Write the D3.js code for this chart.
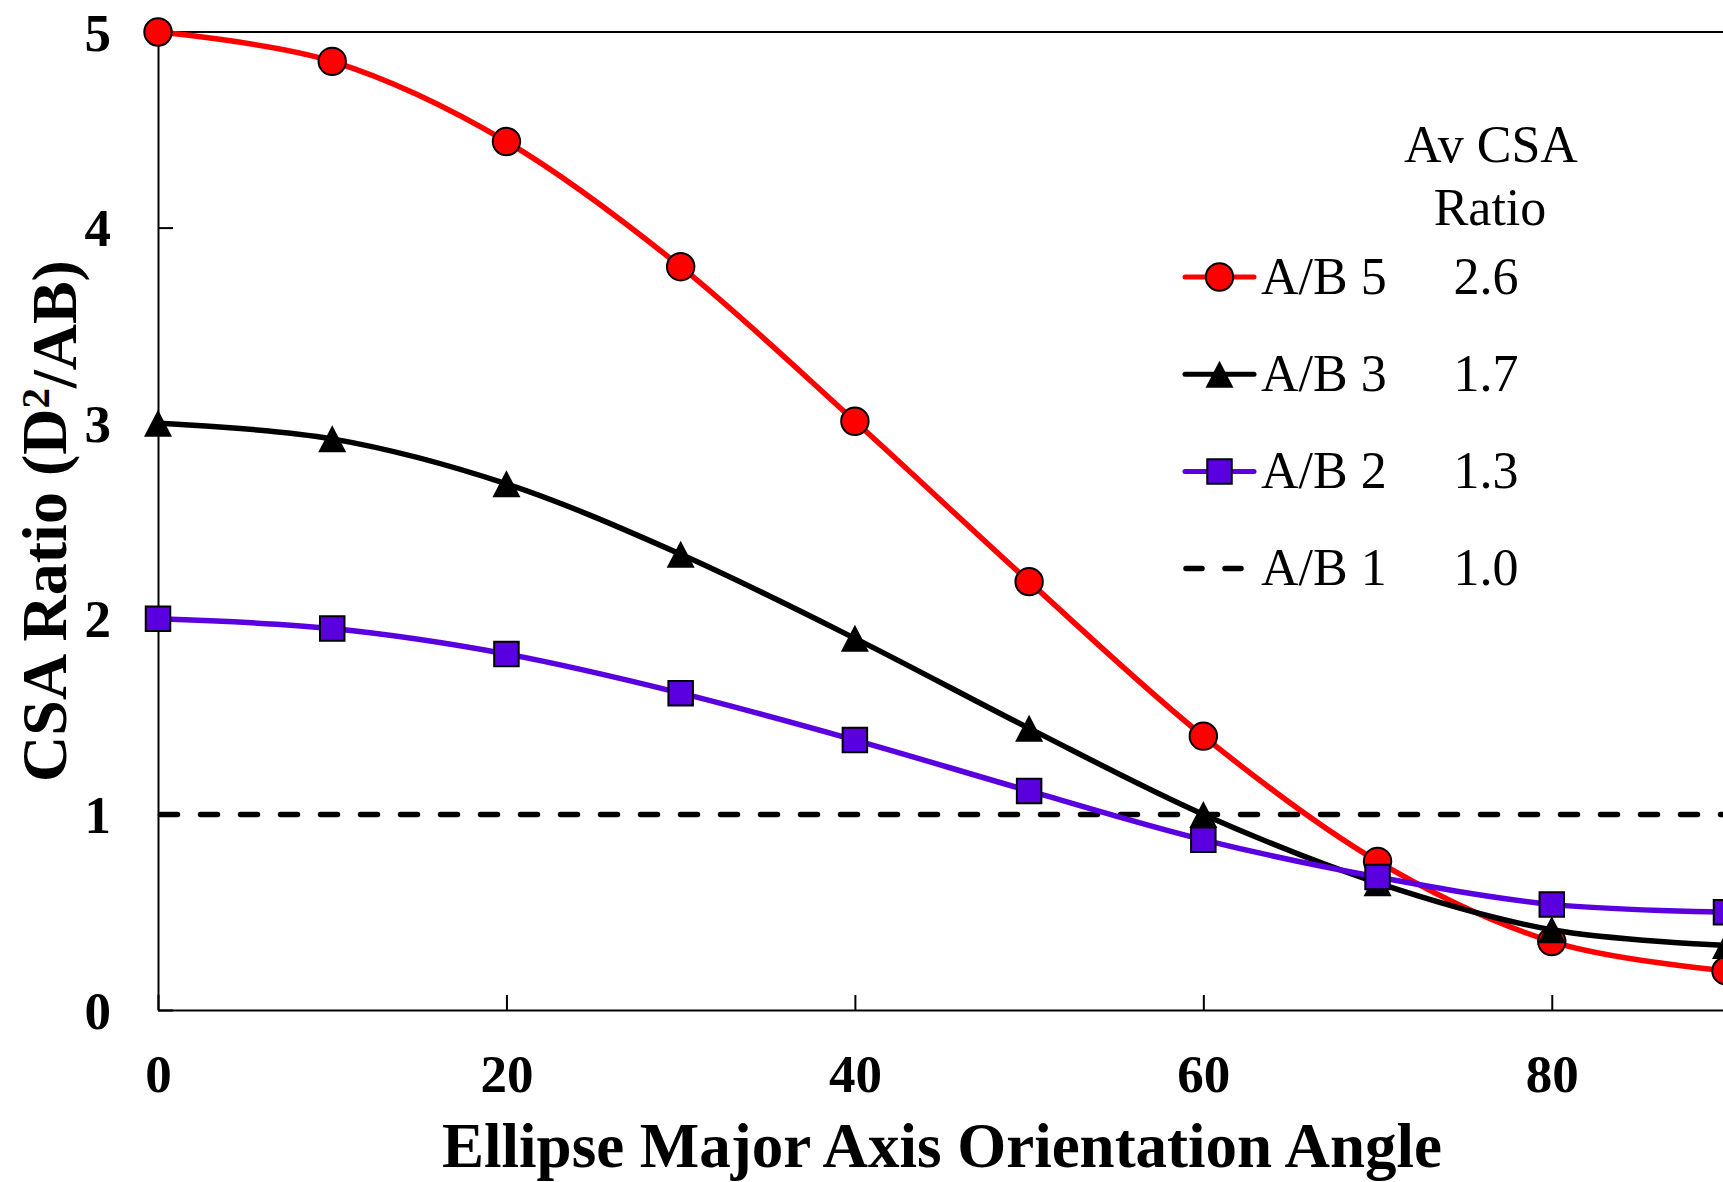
<!DOCTYPE html>
<html>
<head>
<meta charset="utf-8">
<script src="https://cdn.jsdelivr.net/npm/d3@7"></script>
<style>
  html, body { margin: 0; padding: 0; background: #fff; }
  svg { display: block; }
  text { font-family: "Liberation Serif", "Times New Roman", serif; fill: #000; }
</style>
</head>
<body>
<svg id="chart" width="1723" height="1182"></svg>
<script>
// Orientation angle of the ellipse major axis (degrees)
const angles = [0, 10, 20, 30, 40, 50, 60, 70, 80, 90];

// CSA ratio D^2/AB for each ellipse aspect ratio A/B
const ratioAB5 = [5.00, 4.85, 4.44, 3.80, 3.01, 2.19, 1.40, 0.76, 0.35, 0.20];
const ratioAB3 = [3.00, 2.92, 2.69, 2.33, 1.90, 1.44, 1.00, 0.65, 0.41, 0.33];
const ratioAB2 = [2.00, 1.95, 1.82, 1.62, 1.38, 1.12, 0.87, 0.68, 0.54, 0.50];
const ratioAB1 = [1.00, 1.00, 1.00, 1.00, 1.00, 1.00, 1.00, 1.00, 1.00, 1.00];

// Legend entries and the average CSA ratio of each series
const seriesNames = ["A/B 5", "A/B 3", "A/B 2", "A/B 1"];
const avgRatios = ["2.6", "1.7", "1.3", "1.0"];

// Axis ticks
const xTicks = [0, 20, 40, 60, 80];
const yTicks = [0, 1, 2, 3, 4, 5];

const xTitle = "Ellipse Major Axis Orientation Angle";

const svg = d3.select("#chart");
const W = 1723, H = 1182;
const plot = { left: 158, top: 32, right: 1726, bottom: 1010 };

svg.append("rect").attr("width", W).attr("height", H).attr("fill", "#fff");

const x = d3.scaleLinear().domain([0, 90]).range([plot.left, plot.right]);
const y = d3.scaleLinear().domain([0, 5]).range([plot.bottom, plot.top]);

const RED = "#ff0000", PURPLE = "#5a00e0", BLACK = "#000";

// Plot frame (top / right edges)
svg.append("path")
  .attr("d", `M${plot.left},${plot.top}H${plot.right}V${plot.bottom}`)
  .attr("fill", "none").attr("stroke", "#000").attr("stroke-width", 2);

// Axes with inward ticks
const yAxis = svg.append("g")
  .attr("transform", `translate(${plot.left},0)`)
  .call(d3.axisLeft(y).tickValues(yTicks).tickFormat(d3.format("d"))
        .tickSizeInner(-15).tickSizeOuter(0).tickPadding(47));
const xAxis = svg.append("g")
  .attr("transform", `translate(0,${plot.bottom})`)
  .call(d3.axisBottom(x).tickValues(xTicks).tickFormat(d3.format("d"))
        .tickSizeInner(-15).tickSizeOuter(0).tickPadding(0));

[yAxis, xAxis].forEach(g => {
  g.select(".domain").attr("stroke", "#000").attr("stroke-width", 2);
  g.selectAll(".tick line").attr("stroke", "#000").attr("stroke-width", 2);
  g.selectAll(".tick text")
    .style("font-family", '"Liberation Serif", "Times New Roman", serif')
    .style("font-weight", "bold").style("font-size", "53px").attr("fill", "#000");
});
yAxis.selectAll(".tick text").attr("dy", "0.34em");
xAxis.selectAll(".tick text").attr("y", 82).attr("dy", 0);

// Axis titles
svg.append("text")
  .attr("x", 942).attr("y", 1167)
  .attr("text-anchor", "middle")
  .style("font-weight", "bold").style("font-size", "63px")
  .text(xTitle);

const yt = svg.append("text")
  .attr("transform", `translate(66,${(plot.top + plot.bottom) / 2}) rotate(-90)`)
  .attr("text-anchor", "middle")
  .style("font-weight", "bold").style("font-size", "64px");
yt.append("tspan").text("CSA Ratio (D");
yt.append("tspan").attr("dy", "-0.42em").style("font-size", "41px").text("2");
yt.append("tspan").attr("dy", "0.42em").text("/AB)");

// Series drawing
const line = d3.line()
  .x(d => x(d[0])).y(d => y(d[1]))
  .curve(d3.curveCardinal.tension(0));

const zip = vals => angles.map((a, i) => [a, vals[i]]);

// Reference series A/B 1 (dashed)
svg.append("path")
  .datum(zip(ratioAB1))
  .attr("d", d3.line().x(d => x(d[0])).y(d => y(d[1])))
  .attr("fill", "none").attr("stroke", BLACK).attr("stroke-width", 5.5)
  .attr("stroke-dasharray", "17 23").attr("stroke-linecap", "round")
  .attr("transform", "translate(2.5,0)");

// Triangle marker centred on its bounding box (28 wide, 27 tall)
const boxTriangle = {
  draw(ctx) {
    ctx.moveTo(0, -13.5);
    ctx.lineTo(14, 13.5);
    ctx.lineTo(-14, 13.5);
    ctx.closePath();
  }
};

const circleSym = d3.symbol().type(d3.symbolCircle).size(Math.PI * 13.7 * 13.7);
const triSym = d3.symbol().type(boxTriangle);
const sqSym = d3.symbol().type(d3.symbolSquare).size(24.5 * 24.5);

const series = [
  { vals: ratioAB5, color: RED, sym: circleSym, fill: RED, stroke: "#000", sw: 2 },
  { vals: ratioAB3, color: BLACK, sym: triSym, fill: BLACK, stroke: "none", sw: 0 },
  { vals: ratioAB2, color: PURPLE, sym: sqSym, fill: PURPLE, stroke: "#000", sw: 2 }
];

series.forEach(s => {
  const g = svg.append("g");
  g.append("path")
    .datum(zip(s.vals))
    .attr("d", line)
    .attr("fill", "none").attr("stroke", s.color).attr("stroke-width", 5.5)
    .attr("stroke-linejoin", "round").attr("stroke-linecap", "round");
  g.selectAll("path.mk")
    .data(zip(s.vals))
    .join("path").attr("class", "mk")
    .attr("d", s.sym)
    .attr("transform", d => `translate(${x(d[0])},${y(d[1])})`)
    .attr("fill", s.fill).attr("stroke", s.stroke).attr("stroke-width", s.sw);
});

// Legend
const leg = svg.append("g");
leg.append("text").attr("x", 1491).attr("y", 162).attr("text-anchor", "middle")
  .style("font-size", "52px").text("Av CSA");
leg.append("text").attr("x", 1490).attr("y", 225).attr("text-anchor", "middle")
  .style("font-size", "52px").text("Ratio");

const legendRows = [
  { color: RED, sym: circleSym, fill: RED, stroke: "#000", sw: 2, dash: null },
  { color: BLACK, sym: triSym, fill: BLACK, stroke: "none", sw: 0, dash: null },
  { color: PURPLE, sym: sqSym, fill: PURPLE, stroke: "#000", sw: 2, dash: null },
  { color: BLACK, sym: null, dash: "16 23" }
];
const rowY0 = 277, rowStep = 97.2;
legendRows.forEach((r, i) => {
  const ly = rowY0 + i * rowStep;
  if (r.dash) {
    leg.append("line").attr("x1", 1186).attr("x2", 1246).attr("y1", ly).attr("y2", ly)
      .attr("stroke", r.color).attr("stroke-width", 5.5)
      .attr("stroke-dasharray", r.dash).attr("stroke-linecap", "round");
  } else {
    leg.append("line").attr("x1", 1185).attr("x2", 1254).attr("y1", ly).attr("y2", ly)
      .attr("stroke", r.color).attr("stroke-width", 5).attr("stroke-linecap", "round");
    leg.append("path").attr("d", r.sym)
      .attr("transform", `translate(1219.5,${ly})`)
      .attr("fill", r.fill).attr("stroke", r.stroke).attr("stroke-width", r.sw);
  }
  leg.append("text").attr("x", 1261).attr("y", ly + 16.6)
    .style("font-size", "52px").text(seriesNames[i]);
  leg.append("text").attr("x", 1486).attr("y", ly + 16.6).attr("text-anchor", "middle")
    .style("font-size", "52px").text(avgRatios[i]);
});
</script>
</body>
</html>
